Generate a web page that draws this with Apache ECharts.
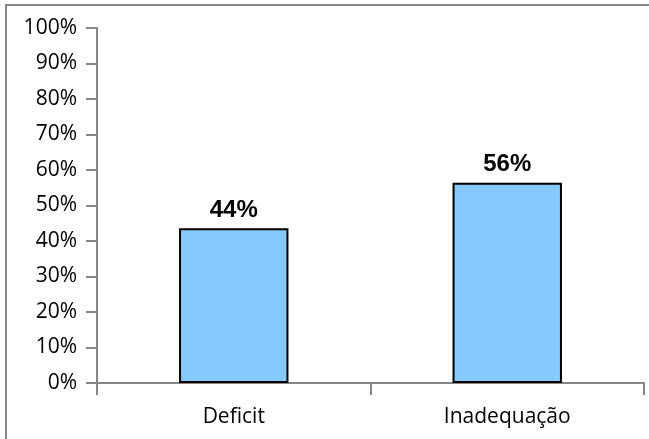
<!DOCTYPE html>
<html>
<head>
<meta charset="utf-8">
<script src="https://cdn.jsdelivr.net/npm/echarts@6/dist/echarts.min.js"></script>
<style>
    html, body { margin: 0; padding: 0; background: #fff; }
    #chart { width: 649px; height: 439px; }
</style>
</head>
<body>
<div id="chart"></div>
<script>
// Data
const categories = ['Deficit', 'Inadequação'];
const values = [43.6, 56.4];
const yTicks = [0, 10, 20, 30, 40, 50, 60, 70, 80, 90, 100];

const AXIS_GRAY = '#878787';

const chart = echarts.init(document.getElementById('chart'));

const option = {
    animation: false,
    // outer chart frame
    graphic: [{
        type: 'rect',
        shape: { x: 6, y: 5, width: 660, height: 460 },
        style: { fill: 'none', stroke: AXIS_GRAY, lineWidth: 2 },
        silent: true
    }],
    grid: { left: 97, right: 5, top: 28, bottom: 56 },
    xAxis: {
        type: 'category',
        data: categories,
        axisLine: { lineStyle: { color: AXIS_GRAY, width: 2 } },
        axisTick: { show: true, length: 12, lineStyle: { color: AXIS_GRAY, width: 2 } },
        axisLabel: {
            color: '#000',
            fontFamily: 'Open Sans',
            fontSize: 21,
            margin: 24
        }
    },
    yAxis: {
        type: 'value',
        min: yTicks[0],
        max: yTicks[yTicks.length - 1],
        interval: 10,
        splitLine: { show: false },
        axisLine: { show: true, lineStyle: { color: AXIS_GRAY, width: 2 } },
        axisTick: { show: true, length: 11, lineStyle: { color: AXIS_GRAY, width: 2 } },
        axisLabel: {
            color: '#000',
            fontFamily: 'Open Sans',
            fontSize: 21,
            margin: 20,
            formatter: (v) => v + '%'
        }
    },
    series: [{
        type: 'bar',
        data: values,
        barWidth: '40%',
        itemStyle: { color: '#85C9FD', borderColor: '#000', borderWidth: 2 },
        label: {
            show: true,
            position: 'top',
            distance: 6,
            color: '#000',
            fontFamily: 'Liberation Sans',
            fontWeight: 'bold',
            fontSize: 24,
            formatter: (p) => Math.round(p.value) + '%'
        }
    }]
};

chart.setOption(option);
</script>
</body>
</html>
